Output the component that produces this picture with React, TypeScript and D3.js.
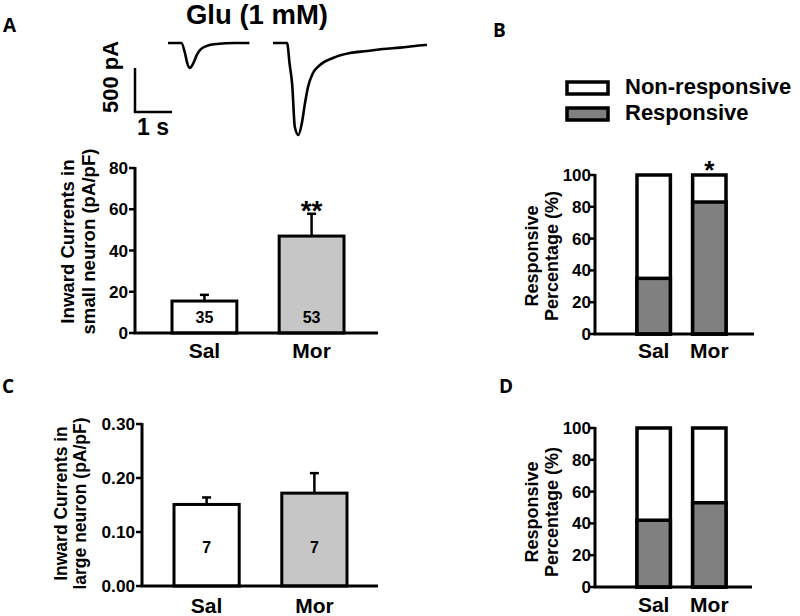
import React from 'react';
import * as d3 from 'd3';

// ---------- data ----------
const categories = ['Sal', 'Mor'];

const smallCurrent = [15.5, 47.0];
const smallSem = [3.0, 10.8];
const smallN = ['35', '53'];
const smallSig = ['', '**'];
const smallTicks = [0, 20, 40, 60, 80];

const largeCurrent = [0.151, 0.172];
const largeSem = [0.013, 0.037];
const largeN = ['7', '7'];
const largeSig = ['', ''];
const largeTicks = [0, 0.1, 0.2, 0.3];

const pctTicks = [0, 20, 40, 60, 80, 100];
const smallResponsive = [35, 83];
const smallPctSig = ['', '*'];
const largeResponsive = [42, 53];
const largePctSig = ['', ''];
const legendLabels = ['Non-responsive', 'Responsive'];

const salTraceTime = [0, 0.36, 0.46, 0.52, 0.59, 0.685, 0.78, 0.865, 1.04, 1.31, 1.8, 2.2];
const salTraceCurrent = [0, 0, -117, -230, -284, -230, -136, -80, -34, -11, 0, 0];
const morTraceTime = [0, 0.38, 0.45, 0.52, 0.59, 0.685, 0.78, 0.865, 0.946, 1.08, 1.27, 1.62, 2.08, 2.54, 2.97, 3.43, 4.11, 4.16];
const morTraceCurrent = [0, 0, -240, -480, -955, -1045, -909, -682, -500, -341, -250, -170, -114, -91, -68, -53, -23, -22];

// ---------- style ----------
const FONT = '"Liberation Sans", Arial, sans-serif';
const LETTER_FONT = '"Open Sans", "Liberation Sans", sans-serif';
const GREY_LIGHT = '#c6c6c6';
const GREY_DARK = '#808080';

type BarProps = {
  values: number[]; sems: number[]; ns: string[]; sig: string[];
  ticks: number[]; fmt: (v: number) => string; domainMax: number;
  axisX: number; axisEnd: number; y0: number; y1: number;
  barRange: [number, number]; labelLines: string[]; labelXs: number[]; labelCY: number; labelSize: number;
  nBaseline: number; catBaseline: number; sigBaseline: number;
};

function BarPanel(p: BarProps) {
  const y = d3.scaleLinear().domain([0, p.domainMax]).range([p.y0, p.y1]);
  const x = d3.scaleBand<string>().domain(categories).range(p.barRange).paddingInner(0.395).paddingOuter(0);
  const bw = x.bandwidth();
  return (
    <g>
      {p.labelLines.map((t, i) => (
        <text key={t} transform={`translate(${p.labelXs[i]},${p.labelCY}) rotate(-90)`} textAnchor="middle"
          fontFamily={FONT} fontWeight="bold" fontSize={p.labelSize}>{t}</text>
      ))}
      {categories.map((c, i) => {
        const cx = (x(c) as number) + bw / 2;
        const top = y(p.values[i]);
        const errTop = y(p.values[i] + p.sems[i]);
        return (
          <g key={c}>
            <line x1={cx} x2={cx} y1={top} y2={errTop} stroke="#000" strokeWidth={2.5} />
            <line x1={cx - 4.5} x2={cx + 4.5} y1={errTop} y2={errTop} stroke="#000" strokeWidth={2.5} />
            <rect x={x(c)} y={top} width={bw} height={y(0) - top} fill={i === 0 ? '#fff' : GREY_LIGHT}
              stroke="#000" strokeWidth={3} />
            <text x={cx} y={p.nBaseline} textAnchor="middle" fontFamily={FONT} fontWeight="bold" fontSize={16}>{p.ns[i]}</text>
            <text x={cx} y={p.catBaseline} textAnchor="middle" fontFamily={FONT} fontWeight="bold" fontSize={21}>{c}</text>
            {p.sig[i] && (
              <text x={cx} y={p.sigBaseline} textAnchor="middle" fontFamily={FONT} fontWeight="bold" fontSize={28}>{p.sig[i]}</text>
            )}
          </g>
        );
      })}
      <line x1={p.axisX} x2={p.axisX} y1={y(0)} y2={y(p.domainMax) - 1} stroke="#000" strokeWidth={3} />
      <line x1={p.axisX - 1.5} x2={p.axisEnd} y1={y(0)} y2={y(0)} stroke="#000" strokeWidth={3} />
      {p.ticks.map((t) => (
        <g key={t}>
          <line x1={p.axisX - 6} x2={p.axisX} y1={y(t)} y2={y(t)} stroke="#000" strokeWidth={2.5} />
          <text x={p.axisX - 7} y={y(t) + 6} textAnchor="end" fontFamily={FONT} fontWeight="bold" fontSize={17.2}>{p.fmt(t)}</text>
        </g>
      ))}
    </g>
  );
}

type PctProps = {
  responsive: number[]; sig: string[]; y0: number; y1: number;
  axisX: number; axisEnd: number; barRange: [number, number];
  labelXs: number[]; labelCY: number; catBaseline: number; sigBaseline: number;
};

function PctPanel(p: PctProps) {
  const y = d3.scaleLinear().domain([0, 100]).range([p.y0, p.y1]);
  const x = d3.scaleBand<string>().domain(categories).range(p.barRange).paddingInner(0.4).paddingOuter(0);
  const bw = x.bandwidth();
  const lines = ['Responsive', 'Percentage (%)'];
  return (
    <g>
      {lines.map((t, i) => (
        <text key={t} transform={`translate(${p.labelXs[i]},${p.labelCY}) rotate(-90)`} textAnchor="middle"
          fontFamily={FONT} fontWeight="bold" fontSize={18}>{t}</text>
      ))}
      {categories.map((c, i) => {
        const bx = x(c) as number;
        const cx = bx + bw / 2;
        return (
          <g key={c}>
            <rect x={bx} y={y(100)} width={bw} height={y(0) - y(100)} fill="#fff" stroke="#000" strokeWidth={3.5} />
            <rect x={bx} y={y(p.responsive[i])} width={bw} height={y(0) - y(p.responsive[i])} fill={GREY_DARK}
              stroke="#000" strokeWidth={3.5} />
            <text x={cx} y={p.catBaseline} textAnchor="middle" fontFamily={FONT} fontWeight="bold" fontSize={21}>{c}</text>
            {p.sig[i] && (
              <text x={cx} y={p.sigBaseline} textAnchor="middle" fontFamily={FONT} fontWeight="bold" fontSize={26}>{p.sig[i]}</text>
            )}
          </g>
        );
      })}
      <line x1={p.axisX} x2={p.axisX} y1={y(0)} y2={y(100) - 1} stroke="#000" strokeWidth={3} />
      <line x1={p.axisX - 1.5} x2={p.axisEnd} y1={y(0)} y2={y(0)} stroke="#000" strokeWidth={3} />
      {pctTicks.map((t) => (
        <g key={t}>
          <line x1={p.axisX - 5} x2={p.axisX} y1={y(t)} y2={y(t)} stroke="#000" strokeWidth={2.5} />
          <text x={p.axisX - 4} y={y(t) + 6} textAnchor="end" fontFamily={FONT} fontWeight="bold" fontSize={17}>{t}</text>
        </g>
      ))}
    </g>
  );
}

function Traces() {
  const yT = d3.scaleLinear().domain([0, -500]).range([43, 87]);
  const salX = d3.scaleLinear().domain([0, 1]).range([168, 205]);
  const morX = d3.scaleLinear().domain([0, 1]).range([273, 310]);
  const salLine = d3.line<number>().x((_, i) => salX(salTraceTime[i])).y((d) => yT(d)).curve(d3.curveMonotoneX);
  const morLine = d3.line<number>().x((_, i) => morX(morTraceTime[i])).y((d) => yT(d)).curve(d3.curveMonotoneX);
  // scale bar: 1 s x 500 pA
  const sbX = 135;
  const sbBottom = 112;
  const sbH = yT(-500) - yT(0);
  const sbW = salX(1) - salX(0);
  return (
    <g>
      <path d={salLine(salTraceCurrent) || ''} fill="none" stroke="#000" strokeWidth={2.6} strokeLinejoin="round" />
      <path d={morLine(morTraceCurrent) || ''} fill="none" stroke="#000" strokeWidth={2.6} strokeLinejoin="round" />
      <line x1={sbX} x2={sbX} y1={sbBottom - sbH} y2={sbBottom} stroke="#000" strokeWidth={2.5} />
      <line x1={sbX - 1.2} x2={sbX + sbW} y1={sbBottom} y2={sbBottom} stroke="#000" strokeWidth={2.5} />
      <text transform={`translate(118,77) rotate(-90)`} textAnchor="middle" fontFamily={FONT} fontWeight="bold" fontSize={22}>500 pA</text>
      <text x={153} y={135} textAnchor="middle" fontFamily={FONT} fontWeight="bold" fontSize={23}>1 s</text>
      <text x={257} y={24} textAnchor="middle" fontFamily={FONT} fontWeight="bold" fontSize={27.5}>Glu (1 mM)</text>
    </g>
  );
}

function Legend() {
  const fills = ['#fff', GREY_DARK];
  const ys = d3.scalePoint<string>().domain(legendLabels).range([82, 108]);
  return (
    <g>
      {legendLabels.map((l, i) => {
        const yy = ys(l) as number;
        return (
          <g key={l}>
            <rect x={567} y={yy} width={41} height={12} fill={fills[i]} stroke="#000" strokeWidth={3.5} />
            <text x={625} y={yy + 11.5} fontFamily={FONT} fontWeight="bold" fontSize={22}>{l}</text>
          </g>
        );
      })}
    </g>
  );
}

export default function App() {
  const letter = (t: string, x: number, y: number) => (
    <text x={x} y={y} fontFamily={LETTER_FONT} fontWeight="bold" fontSize={19}>{t}</text>
  );
  return (
    <svg width={800} height={616} style={{ position: 'absolute', left: 0, top: 0, background: '#fff' }}>
      <rect x={0} y={0} width={800} height={616} fill="#fff" />
      {letter('A', 3, 32)}
      {letter('B', 493, 37)}
      {letter('C', 2, 393)}
      {letter('D', 499, 393)}
      <Traces />
      <BarPanel values={smallCurrent} sems={smallSem} ns={smallN} sig={smallSig} ticks={smallTicks}
        fmt={(v) => String(v)} domainMax={80} axisX={135} axisEnd={378} y0={333} y1={168}
        barRange={[172, 344]} labelLines={['Inward Currents in', 'small neuron (pA/pF)']} labelXs={[74, 95]}
        labelCY={241.5} labelSize={18.6}
        nBaseline={323} catBaseline={358} sigBaseline={220} />
      <BarPanel values={largeCurrent} sems={largeSem} ns={largeN} sig={largeSig} ticks={largeTicks}
        fmt={(v) => d3.format('.2f')(v)} domainMax={0.3} axisX={142} axisEnd={378} y0={586} y1={424}
        barRange={[174, 347]} labelLines={['Inward Currents in', 'large neuron (pA/pF)']} labelXs={[67, 86]}
        labelCY={503.5} labelSize={17.5}
        nBaseline={553} catBaseline={613} sigBaseline={460} />
      <Legend />
      <PctPanel responsive={smallResponsive} sig={smallPctSig} y0={334} y1={175} axisX={595} axisEnd={754}
        barRange={[637, 726]} labelXs={[538, 558]} labelCY={256} catBaseline={358} sigBaseline={179} />
      <PctPanel responsive={largeResponsive} sig={largePctSig} y0={587} y1={428} axisX={595} axisEnd={752}
        barRange={[637, 726]} labelXs={[538, 558]} labelCY={512} catBaseline={612} sigBaseline={420} />
    </svg>
  );
}
